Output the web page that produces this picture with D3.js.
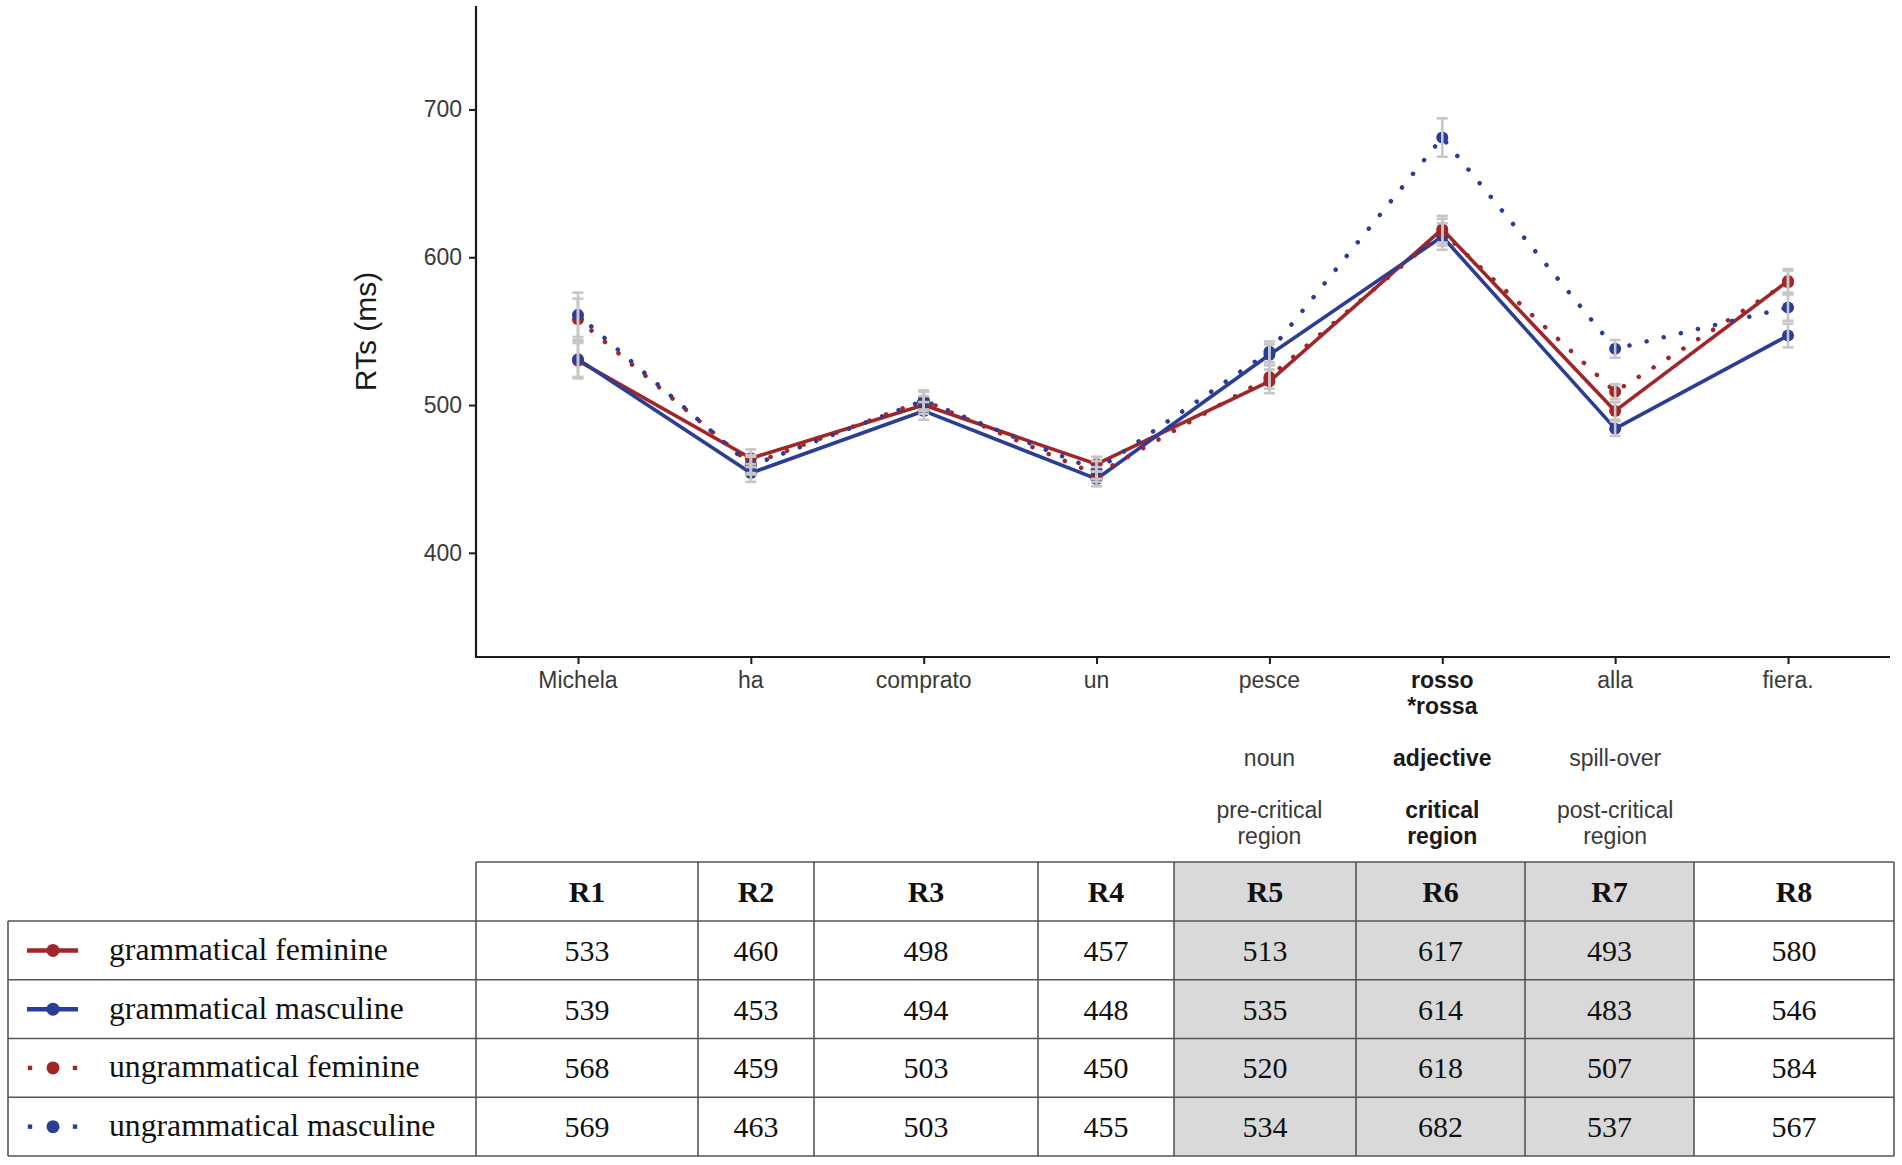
<!DOCTYPE html>
<html>
<head>
<meta charset="utf-8">
<script src="https://cdn.jsdelivr.net/npm/d3@7/dist/d3.min.js"></script>
<style>
  html, body { margin: 0; padding: 0; background: #fff; }
  svg { display: block; }
</style>
</head>
<body>
<svg id="chart" width="1902" height="1165"></svg>
<script>
// ---------------- DATA ----------------
const words = ["Michela", "ha", "comprato", "un", "pesce", "rosso", "alla", "fiera."];
const wordsLine2 = ["", "", "", "", "", "*rossa", "", ""];
const roleLabels = ["", "", "", "", "noun", "adjective", "spill-over", ""];
const regionLine1 = ["", "", "", "", "pre-critical", "critical", "post-critical", ""];
const regionLine2 = ["", "", "", "", "region", "region", "region", ""];
const boldIndex = 5;

const yTicks = [400, 500, 600, 700];

// plotted means
const gramFem    = [530, 464, 500, 460, 516, 619, 496, 584];
const gramMasc   = [531, 454, 496, 450, 534, 614, 484, 547];
const ungramFem  = [558, 460, 503, 453, 519, 617, 509, 583];
const ungramMasc = [561, 459, 503, 456, 536, 681, 538, 566];

// error bar half-widths
const seGramFem    = [12, 6, 6, 5, 8, 9, 6, 8];
const seGramMasc   = [12, 6, 6, 5, 7, 9, 5, 8];
const seUngramFem  = [14, 6, 6, 5, 8, 9, 5, 8];
const seUngramMasc = [15, 6, 7, 6, 7, 13, 6, 9];

// table values
const regions = ["R1", "R2", "R3", "R4", "R5", "R6", "R7", "R8"];
const shadedRegions = ["R5", "R6", "R7"];
const seriesNames = ["grammatical feminine", "grammatical masculine", "ungrammatical feminine", "ungrammatical masculine"];
const tblGramFem    = [533, 460, 498, 457, 513, 617, 493, 580];
const tblGramMasc   = [539, 453, 494, 448, 535, 614, 483, 546];
const tblUngramFem  = [568, 459, 503, 450, 520, 618, 507, 584];
const tblUngramMasc = [569, 463, 503, 455, 534, 682, 537, 567];

// ---------------- STYLE ----------------
const RED = "#a1262a";
const BLUE = "#2b3d94";
const ERR = "#c6c6c6";
const seriesStyle = [
  { color: RED,  dotted: false },
  { color: BLUE, dotted: false },
  { color: RED,  dotted: true },
  { color: BLUE, dotted: true }
];
const seriesVals = [gramFem, gramMasc, ungramFem, ungramMasc];
const seriesSE = [seGramFem, seGramMasc, seUngramFem, seUngramMasc];
const tableVals = [tblGramFem, tblGramMasc, tblUngramFem, tblUngramMasc];

const sans = "'Liberation Sans', Arial, Helvetica, sans-serif";
const serif = "'Liberation Serif', 'Times New Roman', serif";

const svg = d3.select("#chart");
svg.append("rect").attr("width", 1902).attr("height", 1165).attr("fill", "#fff");

// ---------------- SCALES ----------------
const plotLeft = 476, plotRight = 1890, plotTop = 6, plotBottom = 657;
const x = d3.scalePoint().domain(words).range([plotLeft, plotRight]).padding(0.59);
const y = d3.scaleLinear().domain([329.5, 770]).range([plotBottom, plotTop]);

// ---------------- AXES ----------------
const yAxis = svg.append("g")
  .attr("transform", `translate(${plotLeft},0)`)
  .call(d3.axisLeft(y).tickValues(yTicks).tickSize(7).tickPadding(7).tickFormat(d3.format("d")));
yAxis.select(".domain").remove();
yAxis.append("line").attr("x1", 0).attr("x2", 0).attr("y1", plotTop).attr("y2", plotBottom)
  .attr("stroke", "#1a1a1a").attr("stroke-width", 2.2);
yAxis.selectAll(".tick line").attr("stroke", "#1a1a1a").attr("stroke-width", 2);
yAxis.selectAll(".tick text").attr("font-family", sans).attr("font-size", 23).attr("fill", "#3a3a3a");

const xAxis = svg.append("g")
  .attr("transform", `translate(0,${plotBottom})`)
  .call(d3.axisBottom(x).tickSize(7).tickFormat(() => ""));
xAxis.select(".domain").remove();
xAxis.append("line").attr("x1", plotLeft - 1).attr("x2", plotRight).attr("y1", 0).attr("y2", 0)
  .attr("stroke", "#1a1a1a").attr("stroke-width", 2.2);
xAxis.selectAll(".tick line").attr("stroke", "#1a1a1a").attr("stroke-width", 2);

// x tick labels and annotations
const xl = svg.append("g");
function label(txt, i, yy) {
  const bold = i === boldIndex;
  xl.append("text")
    .attr("x", x(words[i])).attr("y", yy)
    .attr("text-anchor", "middle")
    .attr("font-family", sans).attr("font-size", 23)
    .attr("font-weight", bold ? "bold" : "normal")
    .attr("fill", bold ? "#1a1a1a" : "#3a3a3a")
    .text(txt);
}
words.forEach((w, i) => {
  label(w, i, 688);
  if (wordsLine2[i]) label(wordsLine2[i], i, 714);
  if (roleLabels[i]) label(roleLabels[i], i, 766);
  if (regionLine1[i]) label(regionLine1[i], i, 818);
  if (regionLine2[i]) label(regionLine2[i], i, 844);
});

// y title
svg.append("text")
  .attr("transform", `translate(376,${(plotTop + plotBottom) / 2}) rotate(-90)`)
  .attr("text-anchor", "middle")
  .attr("font-family", sans).attr("font-size", 30).attr("fill", "#1a1a1a")
  .text("RTs (ms)");

// ---------------- SERIES ----------------
const line = d3.line().x((d, i) => x(words[i])).y(d => y(d));
const gLines = svg.append("g");
seriesVals.forEach((vals, s) => {
  const st = seriesStyle[s];
  const p = gLines.append("path").datum(vals)
    .attr("d", line)
    .attr("fill", "none")
    .attr("stroke", st.color)
    .attr("stroke-linejoin", "round");
  if (st.dotted) {
    p.attr("stroke-width", 4.5).attr("stroke-linecap", "round").attr("stroke-dasharray", "0.1 17.5");
  } else {
    p.attr("stroke-width", 3.6);
  }
});
const gPts = svg.append("g");
seriesVals.forEach((vals, s) => {
  gPts.selectAll(null).data(vals).enter().append("circle")
    .attr("cx", (d, i) => x(words[i])).attr("cy", d => y(d))
    .attr("r", 6).attr("fill", seriesStyle[s].color);
});
const gErr = svg.append("g").attr("stroke", ERR).attr("stroke-width", 2.6).attr("fill", "none");
seriesVals.forEach((vals, s) => {
  const se = seriesSE[s];
  vals.forEach((v, i) => {
    const cx = x(words[i]);
    gErr.append("line").attr("x1", cx).attr("x2", cx).attr("y1", y(v - se[i])).attr("y2", y(v + se[i]));
    gErr.append("line").attr("x1", cx - 5.5).attr("x2", cx + 5.5).attr("y1", y(v - se[i])).attr("y2", y(v - se[i]));
    gErr.append("line").attr("x1", cx - 5.5).attr("x2", cx + 5.5).attr("y1", y(v + se[i])).attr("y2", y(v + se[i]));
  });
});

// ---------------- TABLE ----------------
const colEdges = [476, 698, 814, 1038, 1174, 1356, 1525, 1694, 1894];
const legendLeft = 8;
const headerTop = 862, headerBottom = 921;
const rowH = (1156 - headerBottom) / 4;
const tbl = svg.append("g");
const BORDER = "#555";

regions.forEach((r, c) => {
  if (shadedRegions.includes(r)) {
    tbl.append("rect")
      .attr("x", colEdges[c]).attr("y", headerTop)
      .attr("width", colEdges[c + 1] - colEdges[c]).attr("height", 1156 - headerTop)
      .attr("fill", "#d9d9d9");
  }
});

regions.forEach((r, c) => {
  tbl.append("text")
    .attr("x", (colEdges[c] + colEdges[c + 1]) / 2).attr("y", (headerTop + headerBottom) / 2)
    .attr("dy", "0.35em").attr("text-anchor", "middle")
    .attr("font-family", serif).attr("font-size", 30).attr("font-weight", "bold").attr("fill", "#111")
    .text(r);
});

tableVals.forEach((vals, rI) => {
  const cy = headerBottom + rowH * rI + rowH / 2;
  vals.forEach((v, c) => {
    tbl.append("text")
      .attr("x", (colEdges[c] + colEdges[c + 1]) / 2).attr("y", cy)
      .attr("dy", "0.35em").attr("text-anchor", "middle")
      .attr("font-family", serif).attr("font-size", 30).attr("fill", "#111")
      .text(v);
  });
  tbl.append("text")
    .attr("x", 109).attr("y", cy)
    .attr("dy", "0.3em")
    .attr("font-family", serif).attr("font-size", 31.7).attr("fill", "#111")
    .text(seriesNames[rI]);
  const st = seriesStyle[rI];
  if (st.dotted) {
    [30, 75].forEach(px => {
      tbl.append("rect").attr("x", px - 2.2).attr("y", cy - 2.2).attr("width", 4.4).attr("height", 4.4).attr("fill", st.color);
    });
  } else {
    tbl.append("line").attr("x1", 27).attr("x2", 78).attr("y1", cy).attr("y2", cy)
      .attr("stroke", st.color).attr("stroke-width", 4.5);
  }
  tbl.append("circle").attr("cx", 53).attr("cy", cy).attr("r", 6.5).attr("fill", st.color);
});

const gb = tbl.append("g").attr("stroke", BORDER).attr("stroke-width", 1.6);
gb.append("line").attr("x1", colEdges[0]).attr("x2", colEdges[8]).attr("y1", headerTop).attr("y2", headerTop);
for (let k = 0; k <= 4; k++) {
  const yy = headerBottom + rowH * k;
  gb.append("line").attr("x1", legendLeft).attr("x2", colEdges[8]).attr("y1", yy).attr("y2", yy);
}
colEdges.forEach(cx => {
  gb.append("line").attr("x1", cx).attr("x2", cx).attr("y1", headerTop).attr("y2", 1156);
});
gb.append("line").attr("x1", legendLeft).attr("x2", legendLeft).attr("y1", headerBottom).attr("y2", 1156);
</script>
</body>
</html>
